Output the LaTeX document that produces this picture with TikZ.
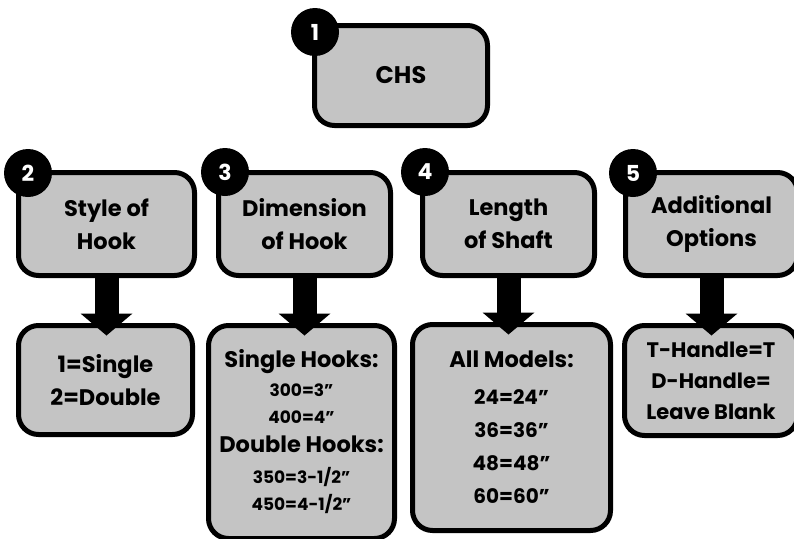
\documentclass[tikz,border=0pt]{standalone}
\usepackage{fontspec}
\setmainfont{Poppins}
\usetikzlibrary{arrows.meta}
\definecolor{boxgray}{HTML}{C4C4C4}

\newcommand{\bigtext}{\bfseries\fontsize{22.5}{33}\selectfont}
\newcommand{\smalltext}{\bfseries\fontsize{17}{27}\selectfont}

\begin{document}
\begin{tikzpicture}[x=1pt, y=-1pt,
		box/.style={draw, line width=5pt, fill=boxgray, rounded corners=20pt, inner sep=0pt, align=center, font=\bigtext},
		num/.style={circle, fill=black, minimum size=48pt, inner sep=0pt, text=white, font=\bfseries\fontsize{22}{22}\selectfont},
		flow/.style={line width=24pt, -{Triangle[width=52pt, length=22pt, line width=0pt]}}]
		\useasboundingbox (0,0) rectangle (794,538);

		% top box
		\node[box, minimum width=173pt, minimum height=100pt, font=\bfseries\fontsize{24}{24}\selectfont] (chs) at (401,75.5) {CHS};

		% second row
		\node[box, minimum width=176pt, minimum height=103pt] (style) at (106.5,224) {Style of\\Hook};
		\node[box, minimum width=172pt, minimum height=103pt] (dim) at (304.5,224) {Dimension\\of Hook};
		\node[box, minimum width=172pt, minimum height=103pt] (len) at (508.5,224) {Length\\of Shaft};
		\node[box, minimum width=172pt, minimum height=103pt] (opt) at (711.5,224) {Additional\\Options};

		% third row
		\node[box, minimum width=174pt, minimum height=109pt] (styleval) at (105.5,380) {1=Single\\2=Double};
		\node[box, minimum width=186pt, minimum height=213pt] (dimval) at (301.5,432) {Single Hooks:\\[-4pt]
			{\smalltext 300=3”}\\[-6pt]
			{\smalltext 400=4”}\\[-4pt]
			Double Hooks:\\[-2pt]
			{\smalltext 350=3-1/2”}\\[-6pt]
			{\smalltext 450=4-1/2”}};
		\node[box, minimum width=198pt, minimum height=206pt] (lenval) at (511.5,427.5) {All Models:\\[4pt]
			{\fontsize{20}{32}\selectfont 24=24”}\\
			{\fontsize{20}{32}\selectfont 36=36”}\\
			{\fontsize{20}{32}\selectfont 48=48”}\\
			{\fontsize{20}{32}\selectfont 60=60”}};
		\node[box, minimum width=173pt, minimum height=110pt, font=\bfseries\fontsize{21}{31}\selectfont] (optval) at (711,380.5) {T-Handle=T\\D-Handle=\\Leave Blank};

		% number badges
		\node[num] (n1) at (315,32) {1};
		\node[num] (n2) at (28,173) {2};
		\node[num] (n3) at (225,172) {3};
		\node[num] (n4) at (425,172) {4};
		\node[num] (n5) at (633,173) {5};

		\draw[flow] ([yshift=3.5pt]style.south) -- ([yshift=-12.5pt]style.south |- styleval.north);
		\draw[flow] ([yshift=3.5pt]dim.south) -- ([yshift=-12.5pt]dim.south |- dimval.north);
		\draw[flow] ([yshift=3.5pt]len.south) -- ([yshift=-12.5pt]len.south |- lenval.north);
		\draw[flow] ([yshift=3.5pt]opt.south) -- ([yshift=-12.5pt]opt.south |- optval.north);
	\end{tikzpicture}
\end{document}
